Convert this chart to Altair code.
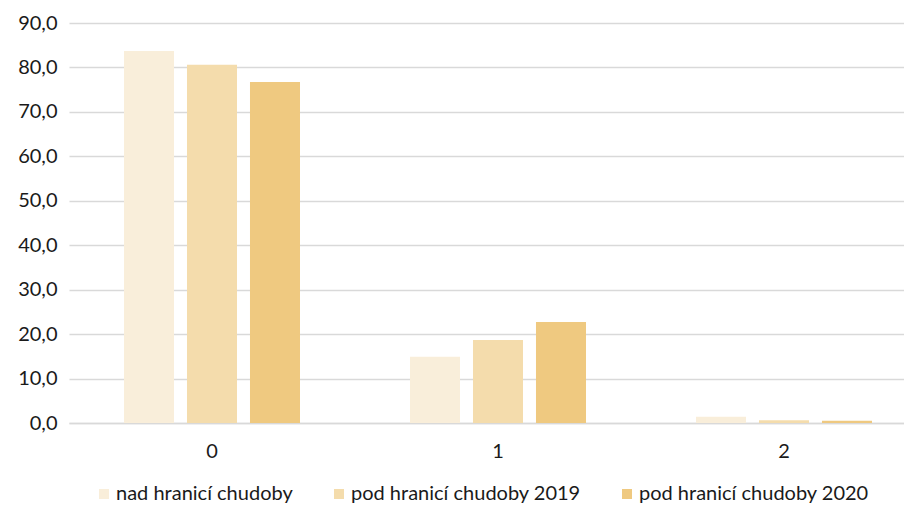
import altair as alt
import pandas as pd

categories = ["0", "1", "2"]
series = ["nad hranicí chudoby", "pod hranicí chudoby 2019", "pod hranicí chudoby 2020"]
nad = [83.7, 14.9, 1.4]
pod2019 = [80.6, 18.7, 0.6]
pod2020 = [76.7, 22.7, 0.5]
colors = ["#F9EEDA", "#F4DCAC", "#EFC980"]

rows = []
for s, vals in zip(series, [nad, pod2019, pod2020]):
    for c, v in zip(categories, vals):
        rows.append({"kat": c, "serie": s, "hodnota": v})
df = pd.DataFrame(rows)

FONT = "Lato"
FS = 20

chart = alt.Chart(df).mark_bar().encode(
    x=alt.X("kat:N", sort=categories, title=None,
            scale=alt.Scale(range=[0, 858], paddingInner=0, paddingOuter=0),
            axis=alt.Axis(labelAngle=0, ticks=False, labelPadding=18, labelFontSize=FS,
                          labelFont=FONT, labelColor="#1a1a1a", domainColor="#D9D9D9",
                          domainWidth=1.5)),
    xOffset=alt.XOffset("serie:N", sort=series,
                        scale=alt.Scale(paddingInner=0.206, paddingOuter=0.873)),
    y=alt.Y("hodnota:Q", title=None,
            scale=alt.Scale(domain=[0, 90], nice=False),
            axis=alt.Axis(values=[0, 10, 20, 30, 40, 50, 60, 70, 80, 90],
                          labelExpr="replace(format(datum.value, '.1f'), '.', ',')",
                          ticks=False, domain=False, labelPadding=12, labelFontSize=FS,
                          labelFont=FONT, labelColor="#1a1a1a",
                          gridColor="#D9D9D9", gridWidth=1.5)),
    color=alt.Color("serie:N", sort=series, title=None,
                    scale=alt.Scale(domain=series, range=colors),
                    legend=alt.Legend(orient="none", direction="horizontal",
                                      legendX=25, legendY=461, symbolType="square",
                                      symbolSize=100, symbolStrokeWidth=0,
                                      labelFontSize=FS, labelFont=FONT,
                                      labelColor="#1a1a1a", columnPadding=36,
                                      labelOffset=2, labelLimit=400)),
).properties(
    width=835, height=400,
    autosize=alt.AutoSizeParams(type="none"),
    padding={"left": 61, "top": 15, "right": 0, "bottom": 80},
).configure_view(stroke=None)

chart.save("out.html", embed_options={"renderer": "svg", "actions": False})
